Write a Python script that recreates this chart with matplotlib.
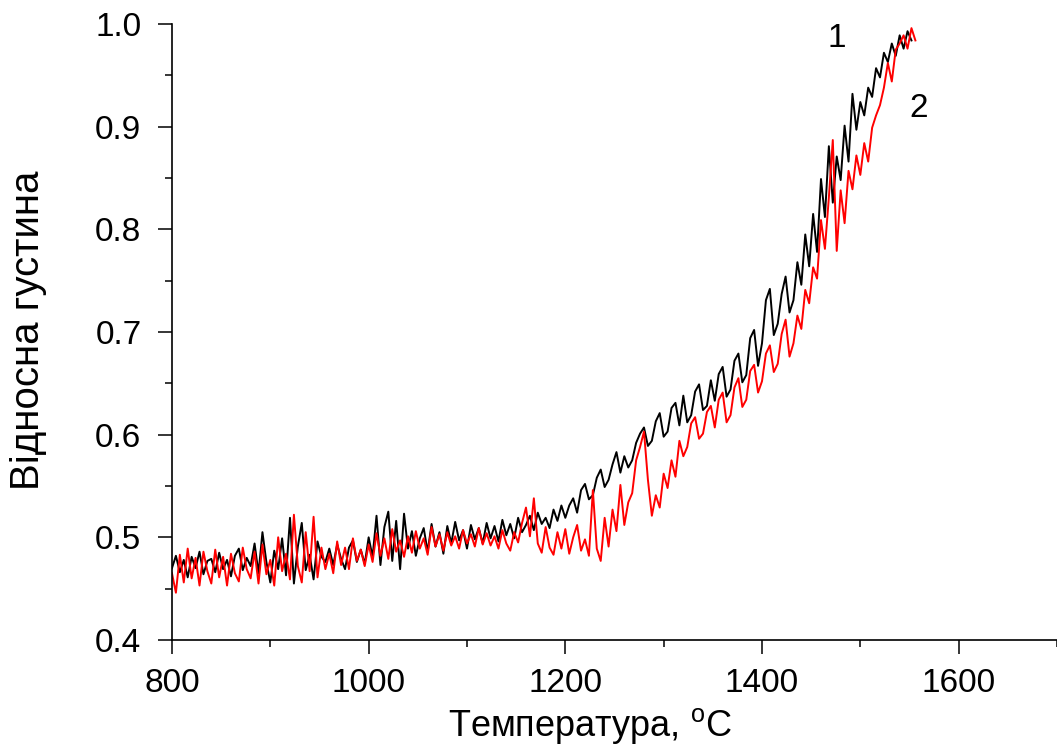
import numpy as np
import matplotlib
matplotlib.use("Agg")
import matplotlib.pyplot as plt
from matplotlib.ticker import MultipleLocator

plt.rcParams['font.family'] = ['Liberation Sans', 'DejaVu Sans']
plt.rcParams['mathtext.fontset'] = 'custom'
plt.rcParams['mathtext.rm'] = 'Liberation Sans'

# curve 1 (black), every 4 degrees from 800
density_1 = [
    0.470, 0.482, 0.466, 0.478, 0.461, 0.481, 0.470, 0.486, 0.464, 0.477,
    0.479, 0.466, 0.485, 0.469, 0.478, 0.462, 0.482, 0.489, 0.468, 0.480,
    0.472, 0.494, 0.465, 0.505, 0.476, 0.456, 0.487, 0.469, 0.499, 0.463,
    0.519, 0.455, 0.491, 0.514, 0.468, 0.483, 0.459, 0.496, 0.481, 0.476,
    0.489, 0.473, 0.493, 0.479, 0.469, 0.490, 0.497, 0.476, 0.488, 0.474,
    0.500, 0.481, 0.521, 0.473, 0.510, 0.525, 0.477, 0.516, 0.469, 0.523,
    0.489, 0.506, 0.482, 0.499, 0.509, 0.486, 0.513, 0.491, 0.505, 0.484,
    0.511, 0.494, 0.515, 0.497, 0.507, 0.489, 0.512, 0.498, 0.509, 0.494,
    0.514, 0.499, 0.511, 0.496, 0.517, 0.502, 0.513, 0.499, 0.519, 0.505,
    0.512, 0.521, 0.507, 0.524, 0.513, 0.519, 0.509, 0.527, 0.516, 0.531,
    0.519, 0.531, 0.538, 0.524, 0.546, 0.552, 0.537, 0.541, 0.558, 0.566,
    0.549, 0.556, 0.571, 0.583, 0.563, 0.579, 0.568, 0.575, 0.592, 0.601,
    0.607, 0.589, 0.594, 0.613, 0.621, 0.598, 0.603, 0.626, 0.631, 0.609,
    0.638, 0.612, 0.619, 0.642, 0.649, 0.624, 0.628, 0.653, 0.633, 0.659,
    0.666, 0.637, 0.644, 0.672, 0.679, 0.651, 0.658, 0.694, 0.702, 0.667,
    0.689, 0.731, 0.742, 0.697, 0.708, 0.737, 0.754, 0.719, 0.731, 0.768,
    0.746, 0.795, 0.764, 0.815, 0.778, 0.849, 0.812, 0.881, 0.826, 0.871,
    0.848, 0.901, 0.866, 0.932, 0.897, 0.924, 0.911, 0.938, 0.929, 0.957,
    0.948, 0.972, 0.963, 0.981, 0.969, 0.989, 0.976, 0.993, 0.984,
]

# curve 2 (red)
density_2 = [
    0.465, 0.446, 0.483, 0.456, 0.489, 0.460, 0.480, 0.453, 0.486, 0.467,
    0.455, 0.488, 0.461, 0.481, 0.453, 0.484, 0.465, 0.457, 0.490, 0.469,
    0.460, 0.486, 0.455, 0.493, 0.464, 0.478, 0.453, 0.500, 0.467, 0.484,
    0.459, 0.522, 0.472, 0.456, 0.505, 0.467, 0.520, 0.461, 0.490, 0.469,
    0.484, 0.465, 0.496, 0.473, 0.490, 0.469, 0.499, 0.477, 0.488, 0.472,
    0.493, 0.476, 0.504, 0.482, 0.499, 0.479, 0.508, 0.486, 0.497, 0.481,
    0.501, 0.485, 0.506, 0.489, 0.499, 0.483, 0.510, 0.491, 0.503, 0.487,
    0.505, 0.492, 0.501, 0.489, 0.507, 0.494, 0.503, 0.491, 0.509, 0.493,
    0.504, 0.492, 0.501, 0.489, 0.507, 0.494, 0.487, 0.505, 0.495, 0.514,
    0.529, 0.501, 0.538, 0.494, 0.485, 0.510, 0.490, 0.483, 0.505, 0.489,
    0.508, 0.484, 0.500, 0.512, 0.487, 0.498, 0.482, 0.546, 0.489, 0.477,
    0.519, 0.491, 0.527, 0.506, 0.551, 0.512, 0.534, 0.543, 0.575, 0.588,
    0.603, 0.556, 0.521, 0.541, 0.529, 0.562, 0.548, 0.575, 0.559, 0.594,
    0.579, 0.588, 0.611, 0.617, 0.596, 0.601, 0.622, 0.628, 0.607, 0.634,
    0.641, 0.612, 0.619, 0.646, 0.655, 0.627, 0.634, 0.662, 0.668, 0.641,
    0.652, 0.679, 0.687, 0.661, 0.669, 0.698, 0.712, 0.676, 0.689, 0.716,
    0.703, 0.741, 0.728, 0.763, 0.752, 0.809, 0.781, 0.831, 0.887, 0.779,
    0.838, 0.806, 0.857, 0.839, 0.872, 0.853, 0.884, 0.866, 0.899, 0.911,
    0.921, 0.938, 0.962, 0.944, 0.975, 0.981, 0.989, 0.976, 0.996, 0.984,
]

t_start, t_step = 800, 4
temp_1 = t_start + t_step * np.arange(len(density_1))
temp_2 = t_start + t_step * np.arange(len(density_2))

curve_labels = ["1", "2"]
label_pos = [(1476, 0.986), (1559, 0.918)]

fig = plt.figure(figsize=(10.57, 7.53), dpi=100)
ax = fig.add_axes([0.1627, 0.1501, 0.8373, 0.818])

ax.plot(temp_1, density_1, color='black', lw=1.4)
ax.plot(temp_2, density_2, color='red', lw=1.4)

for lab, (tx, ty) in zip(curve_labels, label_pos):
    ax.text(tx, ty, lab, fontsize=24, ha='center', va='center')

ax.set_xlim(800, 1700)
ax.set_ylim(0.4, 1.0)
ax.xaxis.set_major_locator(MultipleLocator(200))
ax.xaxis.set_minor_locator(MultipleLocator(100))
ax.yaxis.set_major_locator(MultipleLocator(0.1))
ax.yaxis.set_minor_locator(MultipleLocator(0.05))
ax.yaxis.set_major_formatter(plt.FuncFormatter(lambda v, p: f"{v:.1f}"))

ax.spines['top'].set_visible(False)
ax.spines['right'].set_visible(False)
for s in ['left', 'bottom']:
    ax.spines[s].set_linewidth(1.2)
ax.tick_params(which='major', direction='out', length=10, width=1.1, labelsize=24, pad=10)
ax.tick_params(axis='y', which='major', pad=12)
ax.tick_params(which='minor', direction='out', length=5, width=1.1)

ax.set_xlabel(r'Температура, $^{\rm o}$C', fontsize=26)
ax.xaxis.label.set_va('center')
ax.xaxis.set_label_coords(0.472, -0.14)
ax.set_ylabel('Відносна густина', fontsize=29)
ax.yaxis.label.set_va('center')
ax.yaxis.set_label_coords(-0.163, 0.503)

fig.savefig('out.png', dpi=100)
